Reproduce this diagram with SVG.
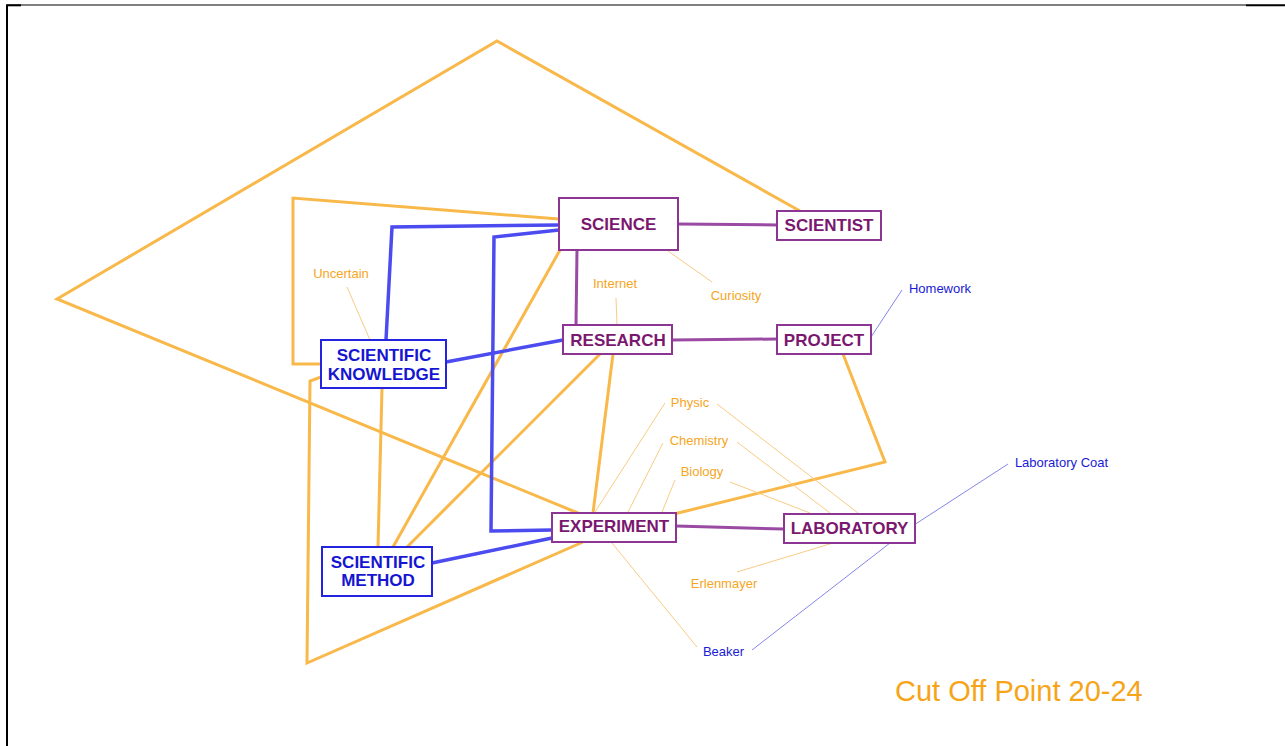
<svg xmlns="http://www.w3.org/2000/svg" width="1285" height="746" viewBox="0 0 1285 746">
<style>
.bg{fill:#ffffff}
.frame{stroke:#000;fill:none}
.o{stroke:#F9B84A;stroke-width:3;fill:none;stroke-linejoin:miter}
.b{stroke:#4B4BEF;stroke-width:3.5;fill:none}
.p{stroke:#9A4AA2;stroke-width:3;fill:none}
.ot{stroke:#F8CB85;stroke-width:1;fill:none}
.bt{stroke:#8585E6;stroke-width:1;fill:none}
.pbox{fill:#fff;stroke:#8C3593;stroke-width:2}
.bbox{fill:#fff;stroke:#2424DE;stroke-width:2}
.pt{font-family:"Liberation Sans",Arial,sans-serif;font-size:17px;font-weight:bold;fill:#7A176F;text-anchor:middle}
.btx{font-family:"Liberation Sans",Arial,sans-serif;font-size:17px;font-weight:bold;fill:#1515D2;text-anchor:middle}
.ol{font-family:"Liberation Sans",Arial,sans-serif;font-size:13px;fill:#F5A51E;text-anchor:middle}
.bl{font-family:"Liberation Sans",Arial,sans-serif;font-size:13px;fill:#1A1AD6;text-anchor:middle}
.title{font-family:"Liberation Sans",Arial,sans-serif;font-size:29px;fill:#F6A418}
</style>
<rect class="bg" x="0" y="0" width="1285" height="746"/>
<g id="frame">
<line class="frame" x1="7" y1="5" x2="7" y2="746" stroke-width="2"/>
<line class="frame" x1="7" y1="5" x2="1246" y2="5" stroke-width="1"/>
<line class="frame" x1="6" y1="5.3" x2="21" y2="5.3" stroke-width="2"/>
<line class="frame" x1="1246" y1="5.3" x2="1285" y2="5.3" stroke-width="2"/>
</g>
<g id="connectors">
<!-- thick orange -->
<polyline class="o" points="800,211 497,41 57,299 578,513"/>
<polyline class="o" points="559,219 293,198 293,364 321,364"/>
<polyline class="o" points="321,377 310,381 307,663 583,542"/>
<line class="o" x1="560" y1="250" x2="393" y2="547"/>
<line class="o" x1="600" y1="354" x2="407" y2="547"/>
<line class="o" x1="382" y1="388" x2="378" y2="547"/>
<line class="o" x1="613" y1="354" x2="593" y2="513"/>
<polyline class="o" points="843,354 885,462 674,514"/>
<!-- thick blue -->
<polyline class="b" points="559,225 392,227 386,340"/>
<polyline class="b" points="559,230 494,237 491,531 552,530"/>
<line class="b" x1="446" y1="362" x2="563" y2="340"/>
<line class="b" x1="432" y1="563" x2="552" y2="538"/>
<!-- thick purple -->
<line class="p" x1="678" y1="224" x2="777" y2="225"/>
<line class="p" x1="577" y1="250" x2="576" y2="325"/>
<line class="p" x1="672" y1="340" x2="777" y2="339"/>
<line class="p" x1="676" y1="526" x2="784" y2="529"/>
<!-- thin orange -->
<line class="ot" x1="347" y1="287" x2="370" y2="340"/>
<line class="ot" x1="616" y1="298" x2="617" y2="325"/>
<line class="ot" x1="668" y1="251" x2="712" y2="282"/>
<line class="ot" x1="665" y1="403" x2="595" y2="512"/>
<line class="ot" x1="717" y1="404" x2="858" y2="513"/>
<line class="ot" x1="663" y1="443" x2="628" y2="512"/>
<line class="ot" x1="737" y1="442" x2="830" y2="513"/>
<line class="ot" x1="675" y1="480" x2="662" y2="512"/>
<line class="ot" x1="730" y1="482" x2="810" y2="513"/>
<line class="ot" x1="737" y1="572" x2="833" y2="543"/>
<line class="ot" x1="612" y1="543" x2="697" y2="647"/>
<!-- thin blue -->
<line class="bt" x1="871" y1="337" x2="902" y2="290"/>
<polyline class="bt" points="1008,464 914,525 890,543 752,650"/>
</g>
<g id="SCIENCE"><rect class="pbox" x="559" y="198" width="119" height="52"/><text class="pt" x="618.5" y="230">SCIENCE</text></g>
<g id="SCIENTIST"><rect class="pbox" x="777" y="211" width="104" height="29"/><text class="pt" x="829" y="231">SCIENTIST</text></g>
<g id="RESEARCH"><rect class="pbox" x="563" y="325" width="109" height="29"/><text class="pt" x="618" y="346">RESEARCH</text></g>
<g id="PROJECT"><rect class="pbox" x="777" y="325" width="94" height="29"/><text class="pt" x="824" y="346">PROJECT</text></g>
<g id="EXPERIMENT"><rect class="pbox" x="552" y="513" width="124" height="29"/><text class="pt" x="614" y="532">EXPERIMENT</text></g>
<g id="LABORATORY"><rect class="pbox" x="784" y="514" width="131" height="29"/><text class="pt" x="849.5" y="534">LABORATORY</text></g>
<g id="SCIENTIFIC_KNOWLEDGE"><rect class="bbox" x="321" y="340" width="125" height="48"/><text class="btx" x="384" y="361">SCIENTIFIC</text><text class="btx" x="384" y="380">KNOWLEDGE</text></g>
<g id="SCIENTIFIC_METHOD"><rect class="bbox" x="322" y="547" width="110" height="49"/><text class="btx" x="378" y="568">SCIENTIFIC</text><text class="btx" x="378" y="586">METHOD</text></g>
<g id="Uncertain"><text class="ol" x="341" y="278">Uncertain</text></g>
<g id="Internet"><text class="ol" x="615" y="288">Internet</text></g>
<g id="Curiosity"><text class="ol" x="736" y="300">Curiosity</text></g>
<g id="Physic"><text class="ol" x="690" y="407">Physic</text></g>
<g id="Chemistry"><text class="ol" x="699" y="445">Chemistry</text></g>
<g id="Biology"><text class="ol" x="702" y="476">Biology</text></g>
<g id="Erlenmayer"><text class="ol" x="724" y="588">Erlenmayer</text></g>
<g id="Beaker"><text class="bl" x="723.5" y="656">Beaker</text></g>
<g id="Homework"><text class="bl" x="940" y="293">Homework</text></g>
<g id="Laboratory_Coat"><text class="bl" x="1061.5" y="467">Laboratory Coat</text></g>
<g id="title"><text class="title" x="895" y="701">Cut Off Point 20-24</text></g>
</svg>
